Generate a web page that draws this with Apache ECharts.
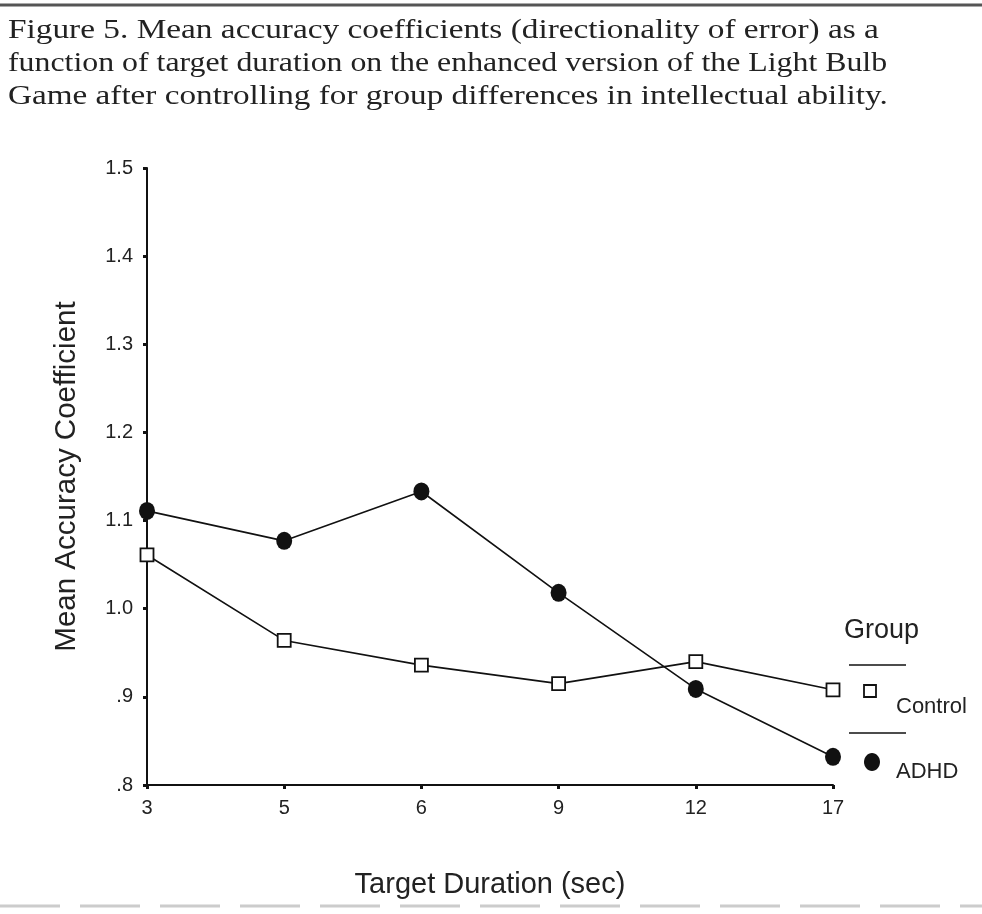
<!DOCTYPE html>
<html>
<head>
<meta charset="utf-8">
<script src="https://cdn.jsdelivr.net/npm/echarts@6/dist/echarts.min.js"></script>
<style>html,body{margin:0;padding:0;background:#fff}#c{width:982px;height:914px}</style>
</head>
<body>
<div id="c"></div>
<script>
const durations = ['3', '5', '6', '9', '12', '17'];
const controlValues = [1.061, 0.964, 0.936, 0.915, 0.940, 0.908];
const adhdValues = [1.111, 1.077, 1.133, 1.018, 0.909, 0.832];
const yTickLabels = ['.8', '.9', '1.0', '1.1', '1.2', '1.3', '1.4', '1.5'];
const captionLines = [
  'Figure 5. Mean accuracy coefficients (directionality of error) as a',
  'function of target duration on the enhanced version of the Light Bulb',
  'Game after controlling for group differences in intellectual ability.'
];
const captionStretch = [1.19, 1.137, 1.186];

const chart = echarts.init(document.getElementById('c'), null, {renderer: 'canvas'});
const sans = 'Liberation Sans, Arial, sans-serif';
const serifFont = '28px Liberation Serif, Times New Roman, serif';

const captionGraphics = captionLines.map((t, i) => ({
  type: 'text', x: 8, y: 31 + i * 33, scaleX: captionStretch[i],
  style: {text: t, font: serifFont, fill: '#222', textVerticalAlign: 'middle', textAlign: 'left'}
}));

chart.setOption({
  backgroundColor: '#fff',
  animation: false,
  grid: {left: 147, right: 149, top: 168, bottom: 129, containLabel: false},
  xAxis: {
    type: 'category',
    data: durations,
    boundaryGap: false,
    name: 'Target Duration (sec)',
    nameLocation: 'middle',
    nameGap: 85,
    nameTextStyle: {fontFamily: sans, fontSize: 29, color: '#222'},
    axisLine: {lineStyle: {color: '#111', width: 2}},
    axisTick: {show: true, length: 4, alignWithLabel: true, lineStyle: {color: '#111', width: 3}},
    axisLabel: {fontFamily: sans, fontSize: 20, color: '#222', margin: 13}
  },
  yAxis: {
    type: 'value',
    min: 0.8, max: 1.5, interval: 0.1,
    name: 'Mean Accuracy Coefficient',
    nameLocation: 'middle',
    nameGap: 65,
    nameTextStyle: {fontFamily: sans, fontSize: 29.5, color: '#222'},
    splitLine: {show: false},
    axisLine: {show: true, lineStyle: {color: '#111', width: 2}},
    axisTick: {show: true, length: 4, lineStyle: {color: '#111', width: 3}},
    axisLabel: {
      fontFamily: sans, fontSize: 20, color: '#222', margin: 14,
      formatter: v => yTickLabels[Math.round((v - 0.8) / 0.1)]
    }
  },
  series: [
    {
      name: 'Control', type: 'line', data: controlValues,
      symbol: 'rect', symbolSize: 13,
      lineStyle: {color: '#111', width: 1.6},
      itemStyle: {color: '#fff', borderColor: '#111', borderWidth: 1.8},
      z: 3
    },
    {
      name: 'ADHD', type: 'line', data: adhdValues,
      symbol: 'circle', symbolSize: [16, 18],
      lineStyle: {color: '#111', width: 1.6},
      itemStyle: {color: '#111', borderColor: '#111', borderWidth: 0},
      z: 4
    }
  ],
  graphic: captionGraphics.concat([
    {type: 'line', shape: {x1: 0, y1: 5, x2: 982, y2: 5}, style: {stroke: '#555', lineWidth: 3}},
    {type: 'line', shape: {x1: 0, y1: 906, x2: 982, y2: 906}, style: {stroke: '#ccc', lineWidth: 3, lineDash: [60, 20]}},
    {type: 'text', left: 844, top: 617, style: {text: 'Group', font: '27px Liberation Sans, Arial, sans-serif', fill: '#222'}},
    {type: 'line', shape: {x1: 849, y1: 665, x2: 906, y2: 665}, style: {stroke: '#111', lineWidth: 1.6}},
    {type: 'rect', shape: {x: 864, y: 685, width: 12, height: 12}, style: {fill: '#fff', stroke: '#111', lineWidth: 1.8}},
    {type: 'text', left: 896, top: 696, style: {text: 'Control', font: '22px Liberation Sans, Arial, sans-serif', fill: '#222'}},
    {type: 'line', shape: {x1: 849, y1: 733, x2: 906, y2: 733}, style: {stroke: '#111', lineWidth: 1.6}},
    {type: 'ellipse', shape: {cx: 872, cy: 762, rx: 8, ry: 9}, style: {fill: '#111'}},
    {type: 'text', left: 896, top: 761, style: {text: 'ADHD', font: '22px Liberation Sans, Arial, sans-serif', fill: '#222'}}
  ])
});
</script>
</body>
</html>
